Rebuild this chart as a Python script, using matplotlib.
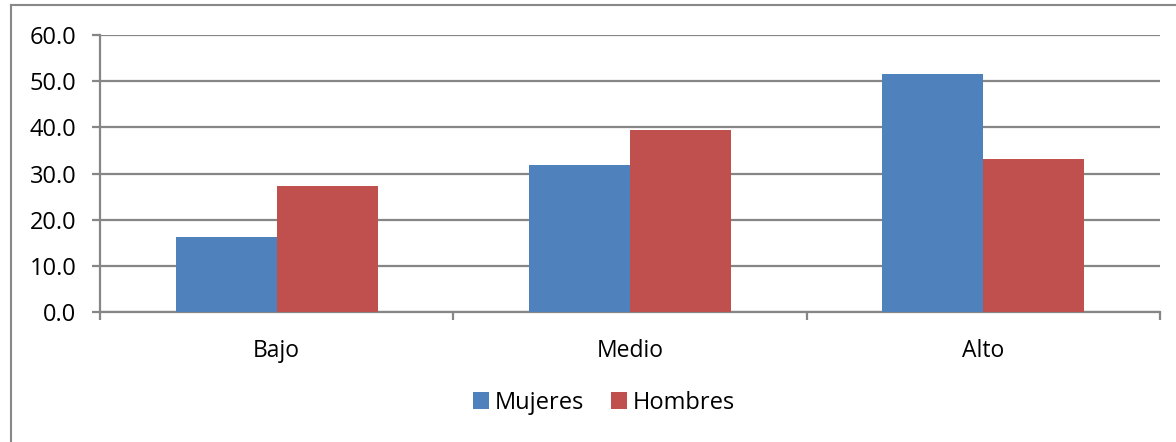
import matplotlib.pyplot as plt
import matplotlib.lines as mlines
import numpy as np

categories = ["Bajo", "Medio", "Alto"]
mujeres = [16.4, 31.8, 51.6]
hombres = [27.3, 39.4, 33.2]
series_names = ["Mujeres", "Hombres"]
y_ticks = [0, 10, 20, 30, 40, 50, 60]

plt.rcParams["font.family"] = ["Open Sans", "DejaVu Sans"]

BLUE = "#4F81BD"
RED = "#C0504D"
GRID = "#868686"

fig = plt.figure(figsize=(11.76, 4.42), dpi=100)
ax = fig.add_axes([100 / 1176, 1 - 312.3 / 442, 1060 / 1176, (312.3 - 35) / 442])

x = np.arange(len(categories))
w = 0.286
ax.bar(x - w / 2, mujeres, w, color=BLUE, label=series_names[0], zorder=3)
ax.bar(x + w / 2, hombres, w, color=RED, label=series_names[1], zorder=3)

ax.set_xlim(-0.5, len(categories) - 0.5)
ax.set_ylim(0, 60)
ax.set_yticks(y_ticks)
ax.set_yticklabels([f"{v:.1f}" for v in y_ticks])
ax.yaxis.grid(True, color=GRID, linewidth=1.6, zorder=0)
ax.set_axisbelow(True)

# category labels centred, tick marks on the boundaries
ax.set_xticks(x)
ax.set_xticklabels(categories)
ax.tick_params(axis="x", length=0, pad=19, labelsize=16.5)
ax.set_xticks(np.arange(-0.5, len(categories)), minor=True)
ax.tick_params(axis="x", which="minor", length=6, width=1.6, color=GRID)
ax.tick_params(axis="y", length=6, width=1.6, color=GRID, pad=11, labelsize=17)

for s in ["top", "right"]:
    ax.spines[s].set_visible(False)
for s in ["left", "bottom"]:
    ax.spines[s].set_color(GRID)
    ax.spines[s].set_linewidth(1.6)

leg = fig.legend(loc="center", bbox_to_anchor=(604 / 1176, 1 - 403 / 442), ncol=2,
                 frameon=False, fontsize=17, handlelength=0.7, handleheight=0.7,
                 handletextpad=0.25, columnspacing=1.1)

# outer chart border (left and top edges visible)
fig.add_artist(mlines.Line2D([10.5 / 1176, 10.5 / 1176], [0, 1 - 5 / 442],
                             transform=fig.transFigure, color="#888888", linewidth=1.5))
fig.add_artist(mlines.Line2D([10.5 / 1176, 1], [1 - 5 / 442, 1 - 5 / 442],
                             transform=fig.transFigure, color="#888888", linewidth=1.5))

fig.savefig("out.png", dpi=100)
